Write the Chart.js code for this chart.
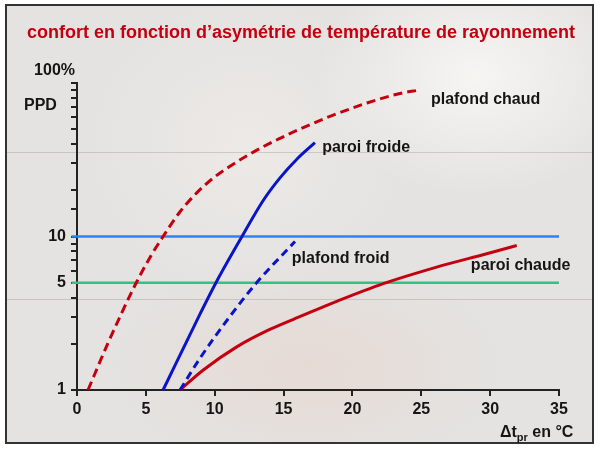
<!DOCTYPE html>
<html>
<head>
<meta charset="utf-8">
<script src="https://cdn.jsdelivr.net/npm/chart.js@4.4.1/dist/chart.umd.min.js"></script>
<style>
    body { margin: 0; background: #fff; }
    #wrap { position: relative; width: 600px; height: 451px; }
    #frame {
        position: absolute; left: 5px; top: 4px; width: 585px; height: 436px;
        border: 2px solid #333;
        background:
            linear-gradient(to bottom, transparent 146px, rgba(150, 140, 140, 0.35) 146px, rgba(150, 140, 140, 0.35) 147px, transparent 147px),
            linear-gradient(to bottom, transparent 293px, rgba(150, 140, 140, 0.35) 293px, rgba(150, 140, 140, 0.35) 294px, transparent 294px),
            radial-gradient(ellipse 160px 120px at 470px 70px, rgba(248, 247, 244, 0.9), transparent),
            radial-gradient(ellipse 200px 110px at 300px 360px, rgba(232, 212, 204, 0.6), transparent),
            radial-gradient(ellipse 160px 150px at 240px 140px, rgba(240, 236, 232, 0.7), transparent),
            #e4e3e1;
    }
    canvas { position: absolute; left: 0; top: 0; }
</style>
</head>
<body>
<div id="wrap">
    <div id="frame"></div>
    <canvas id="myChart" width="600" height="451"></canvas>
</div>
<script>
"use strict";

// values (x = delta t in °C, y = PPD in %)
const plafondChaudX = [0.8, 2.25, 4.21, 5.3, 6.25, 7.48, 8.71, 9.88, 11.11, 12.35, 13.51, 14.74, 15.98, 17.14, 18.37, 21.06, 23.46, 24.91];
const plafondChaudY = [1, 2.02, 4.81, 7.31, 10, 14.5, 19.3, 24.0, 28.7, 33.6, 38.4, 43.6, 49.2, 54.6, 60.6, 74.1, 85.5, 90.1];

const paroiFroideX = [6.25, 8.93, 10.09, 11.98, 13.51, 14.74, 15.98, 17.28];
const paroiFroideY = [1, 3.12, 5.0, 10, 17.1, 24.1, 32.0, 40.9];

const plafondFroidX = [7.48, 8.93, 11.11, 13.0, 15.83];
const plafondFroidY = [1, 1.61, 3.02, 4.95, 9.28];

const paroiChaudeX = [7.48, 9.17, 11.6, 14.0, 16.43, 18.86, 22.24, 26.12, 29.75, 31.93];
const paroiChaudeY = [1, 1.35, 1.91, 2.48, 3.07, 3.78, 4.93, 6.32, 7.72, 8.74];

// reference lines at 10 % and 5 %
const limitX = [-0.4, 35];
const limit10 = [10, 10];
const limit5 = [5, 5];

const yLabels = [1, 5, 10];
const curveNames = ['plafond chaud', 'paroi froide', 'plafond froid', 'paroi chaude'];
const titleText = 'confort en fonction d\u2019asym\u00e9trie de temp\u00e9rature de rayonnement';

const FONT = '"Liberation Sans", Arial, Helvetica, sans-serif';
const RED = '#c40010';
const BLUE = '#0a14c8';

function points(xs, ys) {
    return xs.map(function (x, i) { return { x: x, y: ys[i] }; });
}

function curve(label, xs, ys, color, dash) {
    return {
        label: label,
        data: points(xs, ys),
        borderColor: color,
        borderWidth: 3,
        borderDash: dash,
        pointRadius: 0,
        cubicInterpolationMode: 'monotone',
        clip: false
    };
}

// text that is not part of an axis: title, 100%, PPD, x title, curve names
const textPlugin = {
    id: 'chartTexts',
    afterDraw: function (chart, args, opts) {
        const c = chart.ctx;
        const xs = chart.scales.x;
        const ys = chart.scales.y;
        c.save();
        c.textBaseline = 'middle';

        c.fillStyle = RED;
        c.font = 'bold 18px ' + FONT;
        c.textAlign = 'center';
        c.fillText(titleText, 301, 33);

        c.fillStyle = '#151515';
        c.font = 'bold 16px ' + FONT;
        c.textAlign = 'right';
        c.fillText('100%', 75, 71);
        c.textAlign = 'left';
        c.fillText('PPD', 24, 106);

        // curve labels, anchored in data units
        opts.anchors.forEach(function (a, i) {
            c.fillText(curveNames[i], xs.getPixelForValue(a[0]), ys.getPixelForValue(a[1]));
        });

        // x axis title with subscript
        let px = 500;
        const py = 433;
        c.fillText('\u0394t', px, py);
        px += c.measureText('\u0394t').width;
        c.font = 'bold 11px ' + FONT;
        c.fillText('pr', px, py + 5);
        px += c.measureText('pr').width;
        c.font = 'bold 16px ' + FONT;
        c.fillText(' en \u00b0C', px, py);
        c.restore();
    }
};

const ctx = document.getElementById('myChart');
const myChart = new Chart(ctx, {
    type: 'line',
    data: {
        datasets: [
            curve('plafond chaud', plafondChaudX, plafondChaudY, RED, [9, 5]),
            curve('paroi froide', paroiFroideX, paroiFroideY, BLUE, []),
            curve('plafond froid', plafondFroidX, plafondFroidY, BLUE, [8, 5]),
            curve('paroi chaude', paroiChaudeX, paroiChaudeY, RED, []),
            {
                label: '10 %',
                data: points(limitX, limit10),
                borderColor: '#2a84f4',
                borderWidth: 2.5,
                pointRadius: 0,
                clip: false
            },
            {
                label: '5 %',
                data: points(limitX, limit5),
                borderColor: '#2ec483',
                borderWidth: 2.5,
                pointRadius: 0,
                clip: false
            }
        ]
    },
    plugins: [textPlugin],
    options: {
        responsive: false,
        animation: false,
        layout: {
            padding: { left: 0, right: 41, top: 83, bottom: 21 }
        },
        plugins: {
            legend: { display: false },
            tooltip: { enabled: false },
            title: { display: false },
            chartTexts: {
                anchors: [[25.7, 77.6], [17.8, 37.8], [15.6, 7.14], [28.6, 6.48]]
            }
        },
        scales: {
            x: {
                type: 'linear',
                min: 0,
                max: 35,
                afterFit: function (s) { s.height = 40; },
                ticks: {
                    stepSize: 5,
                    color: '#151515',
                    padding: 4,
                    font: { family: FONT, size: 16, weight: 'bold' }
                },
                grid: {
                    drawOnChartArea: false,
                    tickLength: 6,
                    lineWidth: 2,
                    color: '#222'
                },
                border: { color: '#222', width: 2 }
            },
            y: {
                type: 'logarithmic',
                min: 1,
                max: 100,
                afterFit: function (s) { s.width = 77; },
                ticks: {
                    autoSkip: false,
                    color: '#151515',
                    padding: 5,
                    font: { family: FONT, size: 16, weight: 'bold' },
                    callback: function (value) {
                        return yLabels.indexOf(value) >= 0 ? String(value) : '';
                    }
                },
                grid: {
                    drawOnChartArea: false,
                    tickLength: 6,
                    lineWidth: 2,
                    color: '#222'
                },
                border: { color: '#222', width: 2 }
            }
        }
    }
});
</script>
</body>
</html>
